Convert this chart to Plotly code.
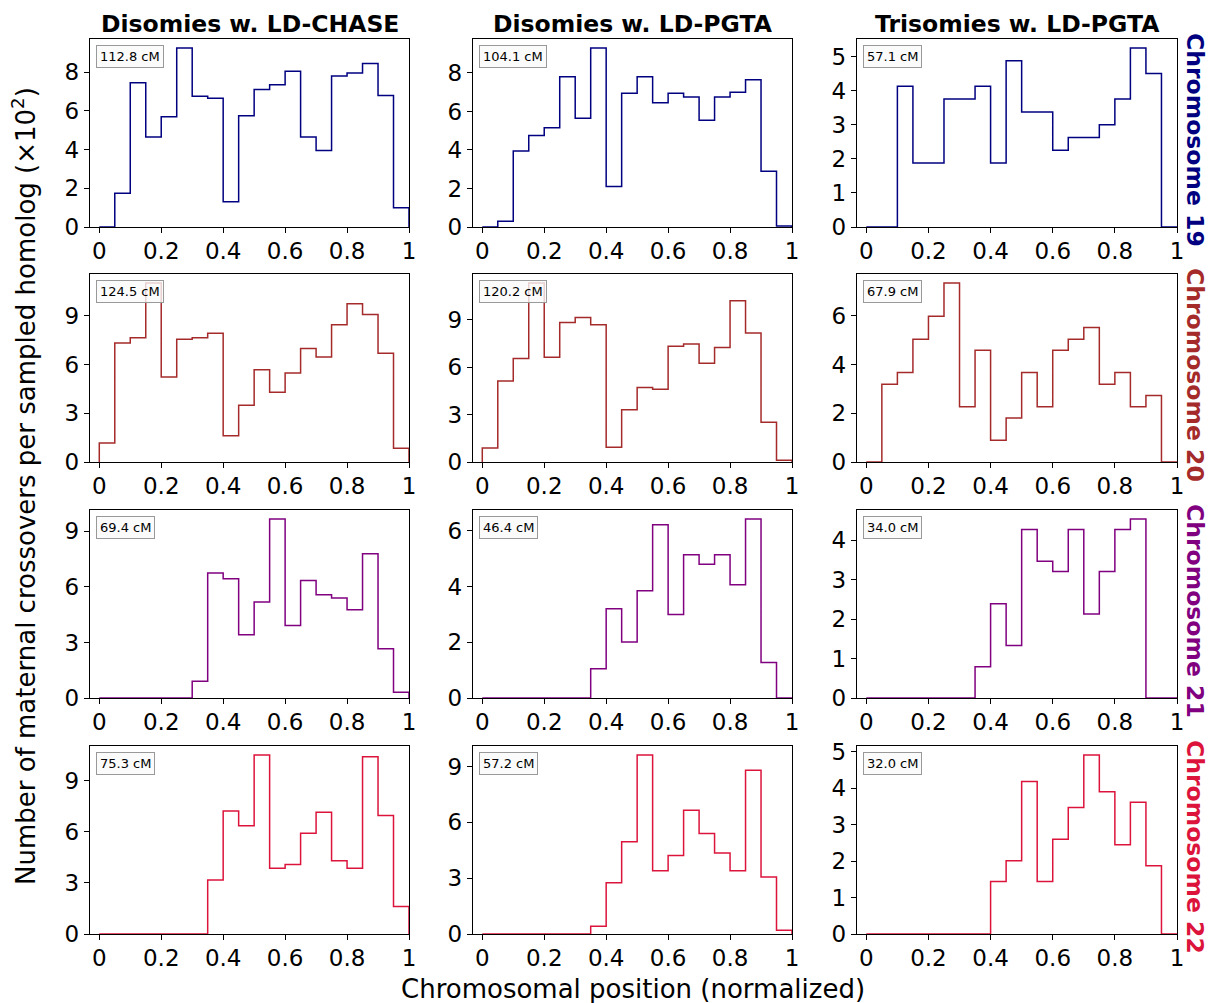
import numpy as np
import plotly.graph_objects as go

# ---------------- data ----------------
col_titles = ["Disomies w. LD-CHASE", "Disomies w. LD-PGTA", "Trisomies w. LD-PGTA"]
row_labels = ["Chromosome 19", "Chromosome 20", "Chromosome 21", "Chromosome 22"]
row_colors = ["#000080", "#A52A2A", "#800080", "#DC143C"]
bin_edges = list(np.round(np.linspace(0, 1, 21), 4))

cm_labels = [
    ["112.8 cM", "104.1 cM", "57.1 cM"],
    ["124.5 cM", "120.2 cM", "67.9 cM"],
    ["69.4 cM", "46.4 cM", "34.0 cM"],
    ["75.3 cM", "57.2 cM", "32.0 cM"],
]

chr19_chase = [0, 1.75, 7.45, 4.65, 5.7, 9.25, 6.75, 6.65, 1.3, 5.75,
               7.1, 7.35, 8.05, 4.65, 3.95, 7.8, 7.95, 8.45, 6.8, 1.0]
chr19_pgta_di = [0, 0.3, 3.95, 4.75, 5.15, 7.8, 5.65, 9.3, 2.1, 6.95,
                 7.8, 6.45, 6.95, 6.75, 5.55, 6.75, 7.0, 7.65, 2.9, 0.05]
chr19_pgta_tri = [0, 0, 4.125, 1.875, 1.875, 3.75, 3.75, 4.125, 1.875, 4.875,
                  3.375, 3.375, 2.25, 2.625, 2.625, 3.0, 3.75, 5.25, 4.5, 0]

chr20_chase = [1.17, 7.33, 7.64, 11.02, 5.23, 7.56, 7.64, 7.93, 1.61, 3.5,
               5.68, 4.3, 5.48, 6.98, 6.47, 8.44, 9.74, 9.08, 6.69, 0.84]
chr20_pgta_di = [0.89, 5.13, 6.55, 11.33, 6.63, 8.83, 9.15, 8.69, 0.93, 3.31,
                 4.72, 4.6, 7.33, 7.46, 6.25, 7.25, 10.21, 8.16, 2.52, 0.11]
chr20_pgta_tri = [0, 3.19, 3.67, 5.04, 5.98, 7.35, 2.27, 4.59, 0.89, 1.81,
                  3.67, 2.27, 4.59, 5.04, 5.52, 3.19, 3.67, 2.27, 2.73, 0]

chr21_chase = [0, 0, 0, 0, 0, 0, 0.9, 6.75, 6.44, 3.42,
               5.18, 9.67, 3.92, 6.34, 5.58, 5.4, 4.77, 7.79, 2.66, 0.31]
chr21_pgta_di = [0, 0, 0, 0, 0, 0, 0, 1.05, 3.2, 2.01,
                 3.85, 6.21, 2.99, 5.14, 4.8, 5.14, 4.06, 6.42, 1.27, 0]
chr21_pgta_tri = [0, 0, 0, 0, 0, 0, 0, 0.79, 2.39, 1.33,
                  4.27, 3.47, 3.21, 4.27, 2.13, 3.21, 4.27, 4.54, 0, 0]

chr22_chase = [0, 0, 0, 0, 0, 0, 0, 3.17, 7.24, 6.36,
               10.53, 3.87, 4.09, 5.93, 7.16, 4.31, 3.87, 10.43, 6.97, 1.62]
chr22_pgta_di = [0, 0, 0, 0, 0, 0, 0, 0.41, 2.75, 4.96,
                 9.62, 3.4, 4.22, 6.65, 5.4, 4.35, 3.4, 8.8, 3.06, 0.2]
chr22_pgta_tri = [0, 0, 0, 0, 0, 0, 0, 0, 1.44, 2.01,
                  4.18, 1.44, 2.6, 3.47, 4.91, 3.9, 2.45, 3.61, 1.87, 0]

series = [
    [chr19_chase, chr19_pgta_di, chr19_pgta_tri],
    [chr20_chase, chr20_pgta_di, chr20_pgta_tri],
    [chr21_chase, chr21_pgta_di, chr21_pgta_tri],
    [chr22_chase, chr22_pgta_di, chr22_pgta_tri],
]

y_ticks = [
    [[0, 2, 4, 6, 8], [0, 2, 4, 6, 8], [0, 1, 2, 3, 4, 5]],
    [[0, 3, 6, 9], [0, 3, 6, 9], [0, 2, 4, 6]],
    [[0, 3, 6, 9], [0, 2, 4, 6], [0, 1, 2, 3, 4]],
    [[0, 3, 6, 9], [0, 3, 6, 9], [0, 1, 2, 3, 4, 5]],
]
x_tickvals = [0, 0.2, 0.4, 0.6, 0.8, 1]
x_ticktext = ["0", "0.2", "0.4", "0.6", "0.8", "1"]

# ---------------- layout geometry ----------------
W, H = 1213, 1003
col_px = [(90, 409), (473, 792), (857, 1177)]
row_px = [(39, 227), (274, 462), (510, 698), (746, 934)]
FONT = "DejaVu Sans"

fig = go.Figure()
annotations = []

for r in range(4):
    for c in range(3):
        idx = r * 3 + c + 1
        xa = "x" if idx == 1 else f"x{idx}"
        ya = "y" if idx == 1 else f"y{idx}"
        counts = series[r][c]
        # step outline (like histtype='step')
        xs = [bin_edges[0]] + bin_edges[:-1] + [bin_edges[-1], bin_edges[-1]]
        ys = [0] + list(counts) + [counts[-1], 0]
        fig.add_trace(go.Scatter(
            x=xs, y=ys, mode="lines", line=dict(color=row_colors[r], width=1.5, shape="hv"),
            xaxis=xa, yaxis=ya, showlegend=False, hoverinfo="skip"))
        x0, x1 = col_px[c]
        y0, y1 = row_px[r]
        axis_common = dict(showline=True, mirror=True, linecolor="black", linewidth=1.3,
                           ticks="outside", ticklen=5, tickwidth=1.2, tickcolor="black",
                           showgrid=False, zeroline=False, automargin=False,
                           tickfont=dict(family=FONT, size=23, color="black"))
        fig.layout[f"xaxis{idx if idx > 1 else ''}"] = dict(
            domain=[x0 / W, x1 / W], range=[-0.03, 1.0], anchor=ya,
            tickvals=x_tickvals, ticktext=x_ticktext, ticklabelstandoff=-2, **axis_common)
        fig.layout[f"yaxis{idx if idx > 1 else ''}"] = dict(
            domain=[1 - y1 / H, 1 - y0 / H], range=[0, max(counts) * 1.05], anchor=xa,
            tickvals=y_ticks[r][c], **axis_common)
        annotations.append(dict(
            text=cm_labels[r][c], xref=f"{xa} domain", yref=f"{ya} domain",
            x=0.018, y=0.968, xanchor="left", yanchor="top", showarrow=False,
            font=dict(family=FONT, size=13, color="black"),
            bgcolor="rgba(250,250,250,0.8)", bordercolor="#999999", borderwidth=1, borderpad=3))

# column titles
for c in range(3):
    x0, x1 = col_px[c]
    annotations.append(dict(
        text=f"<b>{col_titles[c]}</b>", xref="paper", yref="paper",
        x=(x0 + x1) / 2 / W, y=1 - (row_px[0][0] + 1) / H, xanchor="center", yanchor="bottom",
        showarrow=False, font=dict(family=FONT, size=23.5, color="black")))

# row labels
for r in range(4):
    y0, y1 = row_px[r]
    annotations.append(dict(
        text=f"<b>{row_labels[r]}</b>", xref="paper", yref="paper",
        x=1195 / W, y=1 - ((y0 + y1) / 2 + 7) / H, xanchor="center", yanchor="middle",
        textangle=90, showarrow=False, font=dict(family=FONT, size=23.5, color=row_colors[r])))

# shared axis titles
annotations.append(dict(
    text="Number of maternal crossovers per sampled homolog (×10<sup>2</sup>)",
    xref="paper", yref="paper", x=24 / W, y=1 - 486 / H, xanchor="center", yanchor="middle",
    textangle=-90, showarrow=False, font=dict(family=FONT, size=26, color="black")))
annotations.append(dict(
    text="Chromosomal position (normalized)", xref="paper", yref="paper",
    x=633 / W, y=1 - 989 / H, xanchor="center", yanchor="middle",
    showarrow=False, font=dict(family=FONT, size=26, color="black")))

fig.update_layout(
    width=W, height=H, margin=dict(l=0, r=0, t=0, b=0),
    paper_bgcolor="white", plot_bgcolor="white",
    annotations=annotations, showlegend=False)

fig.write_html("out.html")
